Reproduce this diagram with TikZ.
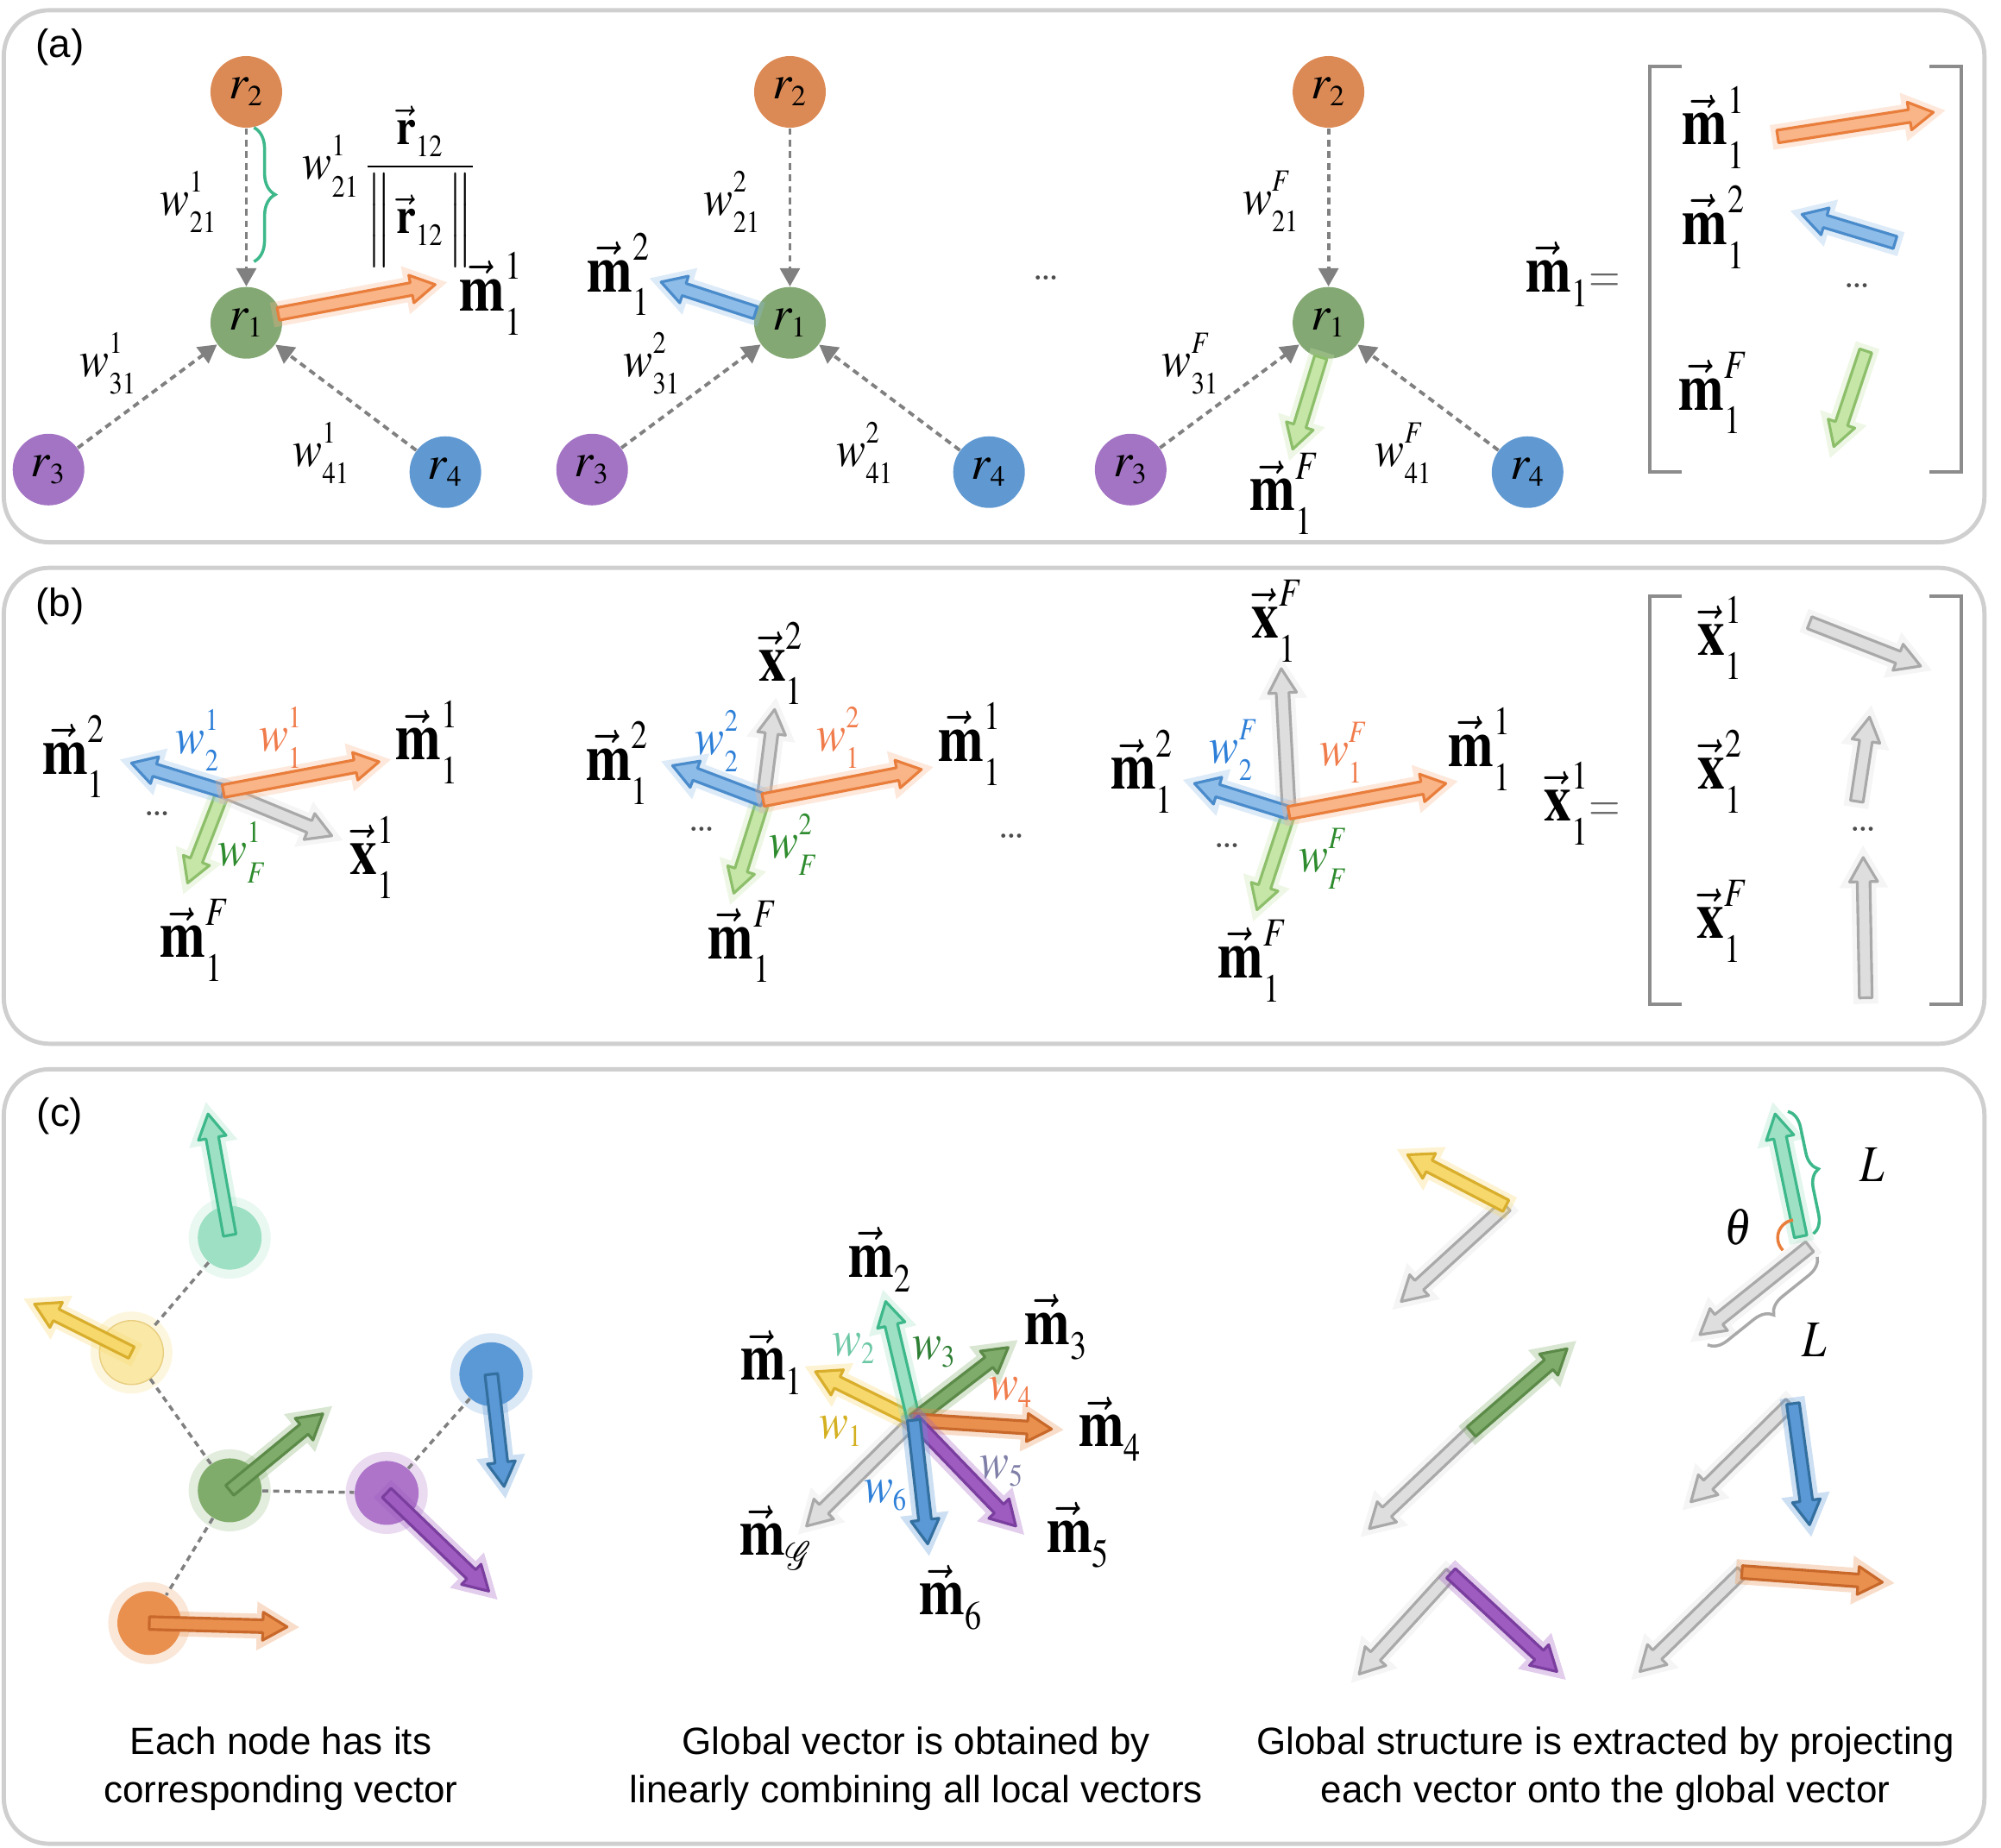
\documentclass[tikz,border=0pt]{standalone}
\usepackage{amsmath}
\usepackage{mathptmx}
\usepackage[no-math]{fontspec}
\setsansfont{Liberation Sans}
\usetikzlibrary{arrows.meta,decorations.pathreplacing}

\definecolor{cbox}{HTML}{CFCFCF}
\definecolor{cdash}{HTML}{808080}
\definecolor{ndorange}{HTML}{DC8A55}
\definecolor{ndgreen}{HTML}{84A874}
\definecolor{ndpurple}{HTML}{A374C4}
\definecolor{ndblue}{HTML}{6099D2}
\definecolor{orfill}{HTML}{F9B487}
\definecolor{ordraw}{HTML}{E97E3C}
\definecolor{blfill}{HTML}{8DBCE8}
\definecolor{bldraw}{HTML}{4A8BCB}
\definecolor{gnfill}{HTML}{C6E6A8}
\definecolor{gndraw}{HTML}{8DBF6B}
\definecolor{gyfill}{HTML}{DEDEDE}
\definecolor{gydraw}{HTML}{A9A9A9}
\definecolor{tlfill}{HTML}{9EE0C4}
\definecolor{tldraw}{HTML}{3DB88B}
\definecolor{ylfill}{HTML}{F7D86C}
\definecolor{yldraw}{HTML}{D8AE2C}
\definecolor{dgfill}{HTML}{7FAC6A}
\definecolor{dgdraw}{HTML}{5C8A48}
\definecolor{ppfill}{HTML}{9E5BC0}
\definecolor{ppdraw}{HTML}{7A3E9E}
\definecolor{bbfill}{HTML}{5A98D6}
\definecolor{bbdraw}{HTML}{34709F}
\definecolor{ogfill}{HTML}{E9904F}
\definecolor{ogdraw}{HTML}{C8682A}
\definecolor{wblue}{HTML}{2D7FD8}
\definecolor{worange}{HTML}{F07C4C}
\definecolor{wgreen}{HTML}{2E8B2E}
\definecolor{wyellow}{HTML}{D4B020}
\definecolor{wteal}{HTML}{6CC7A5}
\definecolor{wdgreen}{HTML}{2F7F35}
\definecolor{wpurple}{HTML}{7F7FA8}

\newcommand\vecb[3]{\vec{\mathbf{#1}}^{\raisebox{2.5pt}{$\scriptscriptstyle #3$}}_{\raisebox{-2.5pt}{$\scriptscriptstyle #2$}}}
\newcommand\vecs[2]{\vec{\mathbf{#1}}_{\raisebox{-1.5pt}{$\scriptscriptstyle #2$}}}
\newcommand\wl[2]{w^{\raisebox{1.5pt}{$\scriptscriptstyle #2$}}_{\raisebox{-1.5pt}{$\scriptscriptstyle #1$}}}

% block arrow: style, x1, y1, x2, y2
\def\fashaft{5}\def\fawing{11}\def\fahead{19}
\newcommand\fatarrow[5]{%
  \pgfmathsetmacro\falen{veclen((#4)-(#2),(#5)-(#3))}%
  \pgfmathsetmacro\faang{atan2(-((#5)-(#3)),(#4)-(#2))}%
  \pgfmathsetmacro\fabase{\falen-\fahead}%
  \draw[#1, shift={(#2,#3)}, rotate=\faang] (0,-\fashaft) -- (\fabase,-\fashaft)
    -- (\fabase,-\fawing) -- (\falen,0) -- (\fabase,\fawing) -- (\fabase,\fashaft)
    -- (0,\fashaft) -- cycle;
}

\begin{document}
\begin{tikzpicture}[x=0.01479cm, y=-0.01479cm,
    panel/.style={draw=cbox, line width=1.4pt, rounded corners=15pt},
    plab/.style={font=\sffamily\fontsize{13}{13}\selectfont, inner sep=0pt},
    nd/.style={circle, minimum size=0.83cm, inner sep=0pt, font=\fontsize{16}{16}\selectfont},
    cn/.style={circle, minimum size=0.74cm, inner sep=0pt},
    dasharr/.style={draw=cdash, line width=1.1pt, dash pattern=on 2.2pt off 1.6pt,
      -{Triangle[length=6pt, width=6.5pt]}},
    dashln/.style={draw=cdash, line width=1pt, dash pattern=on 2pt off 1.6pt},
    mlab/.style={inner sep=0pt, font=\fontsize{22}{24}\selectfont, xscale=.82},
    wlab/.style={inner sep=0pt, font=\fontsize{17}{19}\selectfont, xscale=.85},
    dotlab/.style={inner sep=0pt, font=\fontsize{14}{14}\selectfont, text=black!70},
    captxt/.style={inner sep=0pt, align=center, font=\sffamily\fontsize{12.5}{15.9}\selectfont},
    bracket/.style={draw=black!45, line width=1.2pt},
    fat/.style 2 args={draw=#1, fill=#2, line width=.9pt, line join=round,
      preaction={draw=#2, line width=4pt, opacity=.3}},
    glow/.style={preaction={draw=#1, line width=6pt, opacity=.22}},
    brc/.style={decorate, decoration={brace, amplitude=#1}, line width=1pt}
  ]
  \useasboundingbox (0,0) rectangle (1568,1448);

  % panels
  \draw[panel] (3,8) rectangle (1555,425);
  \draw[panel] (3,445) rectangle (1555,818);
  \draw[panel] (3,838) rectangle (1555,1445);
  \node[plab] (pa) at (47,37) {(a)};
  \node[plab] (pb) at (47,475) {(b)};
  \node[plab] (pc) at (47,875) {(c)};

  % (a) neighbourhoods
  \foreach \g/\dx/\k in {a/0/1, b/426/2, c/848/F}{
    \node[nd, fill=ndorange] (r2\g) at (193+\dx,72) {$r_{\scriptscriptstyle 2}$};
    \node[nd, fill=ndgreen] (r1\g) at (193+\dx,253) {$r_{\scriptscriptstyle 1}$};
    \node[nd, fill=ndpurple] (r3\g) at (38+\dx,368) {$r_{\scriptscriptstyle 3}$};
    \node[nd, fill=ndblue] (r4\g) at (349+\dx,370) {$r_{\scriptscriptstyle 4}$};
    \draw[dasharr] (r2\g) -- (r1\g);
    \draw[dasharr] (r3\g) -- (r1\g);
    \draw[dasharr] (r4\g) -- (r1\g);
    \node[wlab] (w21\g) at (148+\dx,158) {$\wl{21}{\k}$};
    \node[wlab] (w31\g) at (85+\dx,285) {$\wl{31}{\k}$};
    \node[wlab] (w41\g) at (252+\dx,355) {$\wl{41}{\k}$};
  }
  \draw[brc=7pt, draw=tldraw] (199,100) -- (199,205);
  \node[wlab] (frac) at (305,146) {$\wl{21}{1}\,\dfrac{\vecs{r}{12}}{\Bigl\|\,\vecs{r}{12}\,\Bigr\|}$};
  \fatarrow{fat={ordraw}{orfill}}{218}{246}{341}{223}
  \node[mlab] (m11a) at (385,230) {$\vecb{m}{1}{1}$};
  \fatarrow{fat={bldraw}{blfill}}{592}{245}{518}{221}
  \node[mlab] (m12a) at (485,215) {$\vecb{m}{1}{2}$};
  \fatarrow{fat={gndraw}{gnfill}}{1035}{280}{1013}{352}
  \node[mlab] (m1Fa) at (1007,387) {$\vecb{m}{1}{F}$};
  \node[dotlab] (da) at (820,218) {\ldots};

  % (a) stacked vector
  \node[mlab] (m1eq) at (1233,215) {$\vecs{m}{1}\textcolor{black!60}{\scriptstyle =}$};
  \draw[bracket] (1318,52) -- (1293,52) -- (1293,370) -- (1318,370);
  \draw[bracket] (1512,52) -- (1537,52) -- (1537,370) -- (1512,370);
  \node[mlab] (sa1) at (1343,100) {$\vecb{m}{1}{1}$};
  \fatarrow{fat={ordraw}{orfill}}{1393}{107}{1515}{88}
  \node[mlab] (sa2) at (1343,178) {$\vecb{m}{1}{2}$};
  \fatarrow{fat={bldraw}{blfill}}{1485}{190}{1412}{168}
  \node[dotlab] (sad) at (1455,224) {\ldots};
  \node[mlab] (saF) at (1343,308) {$\vecb{m}{1}{F}$};
  \fatarrow{fat={gndraw}{gnfill}}{1462}{275}{1437}{350}

  % (b) projections
  \fatarrow{fat={gndraw}{gnfill}}{175}{620}{147}{692}
  \fatarrow{fat={gydraw}{gyfill}}{175}{620}{260}{655}
  \fatarrow{fat={bldraw}{blfill}}{175}{620}{103}{598}
  \fatarrow{fat={ordraw}{orfill}}{175}{620}{297}{597}
  \node[mlab] (bm2a) at (58,593) {$\vecb{m}{1}{2}$};
  \node[wlab, text=wblue] (bw2a) at (155,580) {$\wl{2}{1}$};
  \node[wlab, text=worange] (bw1a) at (220,578) {$\wl{1}{1}$};
  \node[mlab] (bm1a) at (335,582) {$\vecb{m}{1}{1}$};
  \node[mlab] (bxa) at (292,672) {$\vecb{x}{1}{1}$};
  \node[wlab, text=wgreen] (bwFa) at (190,668) {$\wl{F}{1}$};
  \node[mlab] (bmFa) at (153,737) {$\vecb{m}{1}{F}$};
  \node[dotlab] (bda) at (123,638) {\ldots};

  \fatarrow{fat={gndraw}{gnfill}}{598}{627}{575}{700}
  \fatarrow{fat={gydraw}{gyfill}}{598}{627}{607}{556}
  \fatarrow{fat={bldraw}{blfill}}{598}{627}{527}{600}
  \fatarrow{fat={ordraw}{orfill}}{598}{627}{722}{603}
  \node[mlab] (bm2b) at (484,598) {$\vecb{m}{1}{2}$};
  \node[wlab, text=wblue] (bw2b) at (562,581) {$\wl{2}{2}$};
  \node[wlab, text=worange] (bw1b) at (657,578) {$\wl{1}{2}$};
  \node[mlab] (bm1b) at (760,583) {$\vecb{m}{1}{1}$};
  \node[mlab] (bxb) at (612,520) {$\vecb{x}{1}{2}$};
  \node[wlab, text=wgreen] (bwFb) at (622,662) {$\wl{F}{2}$};
  \node[mlab] (bmFb) at (582,738) {$\vecb{m}{1}{F}$};
  \node[dotlab] (bdb) at (550,650) {\ldots};
  \node[dotlab] (bdm) at (793,655) {\ldots};

  \fatarrow{fat={gndraw}{gnfill}}{1010}{637}{985}{713}
  \fatarrow{fat={gydraw}{gyfill}}{1010}{637}{1004}{524}
  \fatarrow{fat={bldraw}{blfill}}{1010}{637}{936}{614}
  \fatarrow{fat={ordraw}{orfill}}{1010}{637}{1133}{614}
  \node[mlab] (bm2c) at (895,605) {$\vecb{m}{1}{2}$};
  \node[wlab, text=wblue] (bw2c) at (967,588) {$\wl{2}{F}$};
  \node[wlab, text=worange] (bw1c) at (1053,590) {$\wl{1}{F}$};
  \node[mlab] (bm1c) at (1160,587) {$\vecb{m}{1}{1}$};
  \node[mlab] (bxc) at (1001,487) {$\vecb{x}{1}{F}$};
  \node[wlab, text=wgreen] (bwFc) at (1037,673) {$\wl{F}{F}$};
  \node[mlab] (bmFc) at (982,753) {$\vecb{m}{1}{F}$};
  \node[dotlab] (bdc) at (962,663) {\ldots};

  % (b) stacked vector
  \node[mlab] (x1eq) at (1240,630) {$\vecb{x}{1}{1}\textcolor{black!60}{\scriptstyle =}$};
  \draw[bracket] (1318,467) -- (1293,467) -- (1293,787) -- (1318,787);
  \draw[bracket] (1512,467) -- (1537,467) -- (1537,787) -- (1512,787);
  \node[mlab] (sb1) at (1348,500) {$\vecb{x}{1}{1}$};
  \fatarrow{fat={gydraw}{gyfill}}{1418}{488}{1505}{522}
  \node[mlab] (sb2) at (1348,605) {$\vecb{x}{1}{2}$};
  \fatarrow{fat={gydraw}{gyfill}}{1455}{628}{1465}{562}
  \node[dotlab] (sbd) at (1460,650) {\ldots};
  \node[mlab] (sbF) at (1350,722) {$\vecb{x}{1}{F}$};
  \fatarrow{fat={gydraw}{gyfill}}{1462}{782}{1460}{672}

  % (c) graph with local vectors
  \node[cn, fill=tlfill, glow=tlfill] (ct) at (180,970) {};
  \node[cn, fill=ylfill!60, draw=yldraw!60, glow=ylfill] (cy) at (103,1060) {};
  \node[cn, fill=dgfill, glow=dgfill] (cg) at (180,1168) {};
  \node[cn, fill=ppfill!85, glow=ppfill] (cp) at (303,1170) {};
  \node[cn, fill=bbfill, glow=bbfill] (cb) at (385,1077) {};
  \node[cn, fill=ogfill, glow=ogfill] (co) at (117,1272) {};
  \draw[dashln] (ct) -- (cy);
  \draw[dashln] (cy) -- (cg);
  \draw[dashln] (cg) -- (cp);
  \draw[dashln] (cp) -- (cb);
  \draw[dashln] (cg) -- (co);
  \fatarrow{fat={tldraw}{tlfill}}{180}{968}{163}{873}
  \fatarrow{fat={yldraw}{ylfill}}{103}{1060}{27}{1022}
  \fatarrow{fat={dgdraw}{dgfill}}{180}{1168}{253}{1108}
  \fatarrow{fat={ppdraw}{ppfill}}{303}{1170}{383}{1247}
  \fatarrow{fat={bbdraw}{bbfill}}{385}{1077}{395}{1165}
  \fatarrow{fat={ogdraw}{ogfill}}{117}{1272}{225}{1275}
  \node[captxt] (capl) at (220,1386) {Each node has its\\corresponding vector};

  % (c) global vector
  \fatarrow{fat={gydraw}{gyfill}}{716}{1113}{632}{1196}
  \fatarrow{fat={yldraw}{ylfill}}{716}{1113}{639}{1075}
  \fatarrow{fat={tldraw}{tlfill}}{716}{1113}{694}{1020}
  \fatarrow{fat={dgdraw}{dgfill}}{716}{1113}{790}{1056}
  \fatarrow{fat={ogdraw}{ogfill}}{716}{1113}{824}{1120}
  \fatarrow{fat={ppdraw}{ppfill}}{716}{1113}{796}{1196}
  \fatarrow{fat={bbdraw}{bbfill}}{716}{1113}{727}{1210}
  \node[mlab] (gm1) at (605,1068) {$\vecs{m}{1}$};
  \node[mlab] (gm2) at (690,987) {$\vecs{m}{2}$};
  \node[mlab] (gm3) at (828,1040) {$\vecs{m}{3}$};
  \node[mlab] (gm4) at (870,1120) {$\vecs{m}{4}$};
  \node[mlab] (gm5) at (845,1203) {$\vecs{m}{5}$};
  \node[mlab] (gm6) at (745,1252) {$\vecs{m}{6}$};
  \node[mlab] (gmG) at (608,1205) {$\vecs{m}{\mathcal G}$};
  \node[wlab, text=wyellow] (gw1) at (659,1122) {$w_{\scriptscriptstyle 1}$};
  \node[wlab, text=wteal] (gw2) at (669,1057) {$w_{\scriptscriptstyle 2}$};
  \node[wlab, text=wdgreen] (gw3) at (732,1060) {$w_{\scriptscriptstyle 3}$};
  \node[wlab, text=worange] (gw4) at (792,1091) {$w_{\scriptscriptstyle 4}$};
  \node[wlab, text=wpurple] (gw5) at (785,1153) {$w_{\scriptscriptstyle 5}$};
  \node[wlab, text=wblue] (gw6) at (694,1172) {$w_{\scriptscriptstyle 6}$};
  \node[captxt] (capm) at (718,1386) {Global vector is obtained by\\linearly combining all local vectors};

  % (c) projections
  \fatarrow{fat={gydraw}{gyfill}}{1180}{945}{1098}{1020}
  \fatarrow{fat={yldraw}{ylfill}}{1180}{945}{1103}{905}
  \fatarrow{fat={gydraw}{gyfill}}{1418}{977}{1332}{1046}
  \fatarrow{fat={tldraw}{tlfill}}{1411}{969}{1391}{873}
  \draw[brc=6pt, draw=tldraw] (1401,871) -- (1421,967);
  \draw[brc=6pt, draw=gydraw] (1424,985) -- (1338,1054);
  \draw[ordraw, line width=1pt] (1407,970) ++(135:14) arc[start angle=135, end angle=262, radius=14];
  \node[wlab] (thlab) at (1362,962) {$\theta$};
  \node[wlab] (lab1) at (1467,913) {$L$};
  \node[wlab] (lab2) at (1422,1050) {$L$};
  \fatarrow{fat={gydraw}{gyfill}}{1153}{1122}{1073}{1198}
  \fatarrow{fat={dgdraw}{dgfill}}{1153}{1122}{1228}{1057}
  \fatarrow{fat={gydraw}{gyfill}}{1403}{1100}{1325}{1177}
  \fatarrow{fat={bbdraw}{bbfill}}{1405}{1100}{1418}{1195}
  \fatarrow{fat={gydraw}{gyfill}}{1137}{1233}{1065}{1312}
  \fatarrow{fat={ppdraw}{ppfill}}{1137}{1233}{1220}{1310}
  \fatarrow{fat={gydraw}{gyfill}}{1365}{1232}{1285}{1310}
  \fatarrow{fat={ogdraw}{ogfill}}{1365}{1232}{1475}{1240}
  \node[captxt] (capr) at (1258,1386) {Global structure is extracted by projecting\\each vector onto the global vector};
\end{tikzpicture}
\end{document}
